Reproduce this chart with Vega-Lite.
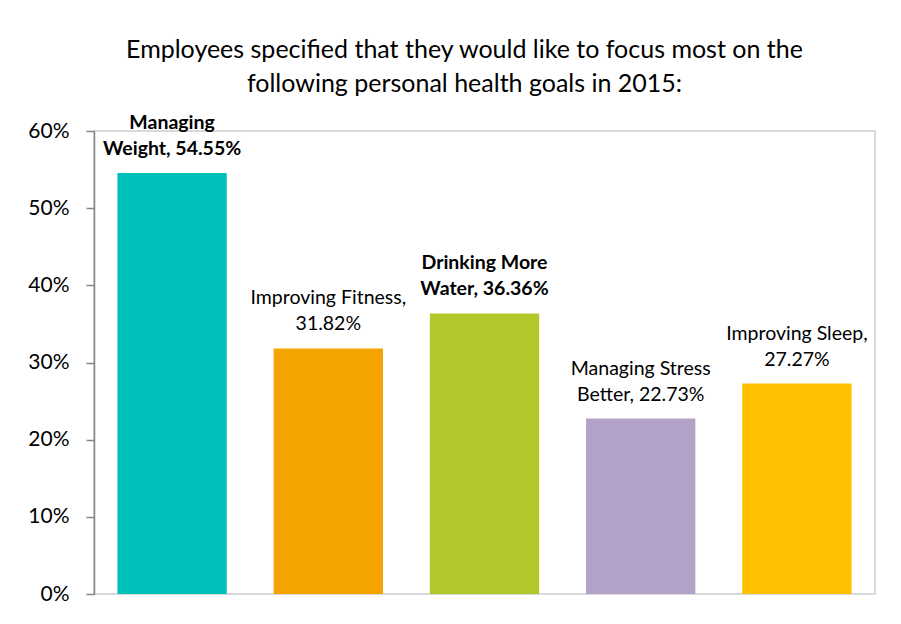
{
  "$schema": "https://vega.github.io/schema/vega-lite/v6.json",
  "autosize": "none",
  "width": 781,
  "height": 463,
  "padding": {"left": 94, "top": 131, "right": 26, "bottom": 30},
  "background": "white",
  "title": {
    "text": ["Employees specified that they would like to focus most on the", "following personal health goals in 2015:"],
    "font": "Lato",
    "fontSize": 25,
    "fontWeight": "normal",
    "lineHeight": 34,
    "color": "#000000",
    "anchor": "middle",
    "dx": -20,
    "offset": 16
  },
  "data": {
    "values": [
      {"goal": "Managing Weight", "share": 0.5455, "label": "Managing\nWeight, 54.55%"},
      {"goal": "Improving Fitness", "share": 0.3182, "label": "Improving Fitness,\n31.82%"},
      {"goal": "Drinking More Water", "share": 0.3636, "label": "Drinking More\nWater, 36.36%"},
      {"goal": "Managing Stress Better", "share": 0.2273, "label": "Managing Stress\nBetter, 22.73%"},
      {"goal": "Improving Sleep", "share": 0.2727, "label": "Improving Sleep,\n27.27%"}
    ]
  },
  "encoding": {
    "x": {
      "field": "goal",
      "type": "nominal",
      "sort": null,
      "axis": null,
      "scale": {"paddingInner": 0.3, "paddingOuter": 0.15}
    },
    "y": {
      "field": "share",
      "type": "quantitative",
      "scale": {"domain": [0, 0.6], "nice": false},
      "axis": {
        "title": null,
        "format": ".0%",
        "values": [0, 0.1, 0.2, 0.3, 0.4, 0.5, 0.6],
        "grid": false,
        "domainColor": "#868686",
        "domainWidth": 1.5,
        "tickColor": "#868686",
        "tickWidth": 1.5,
        "tickSize": 8,
        "labelPadding": 17,
        "labelFont": "Lato",
        "labelFontSize": 21,
        "labelColor": "#000000"
      }
    }
  },
  "layer": [
    {
      "mark": {"type": "bar"},
      "encoding": {
        "color": {
          "field": "goal",
          "type": "nominal",
          "sort": null,
          "legend": null,
          "scale": {
            "domain": ["Managing Weight", "Improving Fitness", "Drinking More Water", "Managing Stress Better", "Improving Sleep"],
            "range": ["#00C0BA", "#F4A300", "#B3C72B", "#B3A2C8", "#FFC000"]
          }
        }
      }
    },
    {
      "transform": [{"filter": {"field": "goal", "oneOf": ["Managing Weight", "Drinking More Water"]}}],
      "mark": {"type": "text", "baseline": "bottom", "dy": -40, "lineBreak": "\n", "lineHeight": 26, "font": "Lato", "fontSize": 19.5, "fontWeight": "bold", "color": "#000000"},
      "encoding": {"text": {"field": "label"}}
    },
    {
      "transform": [{"filter": {"not": {"field": "goal", "oneOf": ["Managing Weight", "Drinking More Water"]}}}],
      "mark": {"type": "text", "baseline": "bottom", "dy": -40, "lineBreak": "\n", "lineHeight": 26, "font": "Lato", "fontSize": 19.5, "fontWeight": "normal", "color": "#000000"},
      "encoding": {"text": {"field": "label"}}
    }
  ],
  "config": {
    "view": {"stroke": "#D9D9D9", "strokeWidth": 2}
  }
}
